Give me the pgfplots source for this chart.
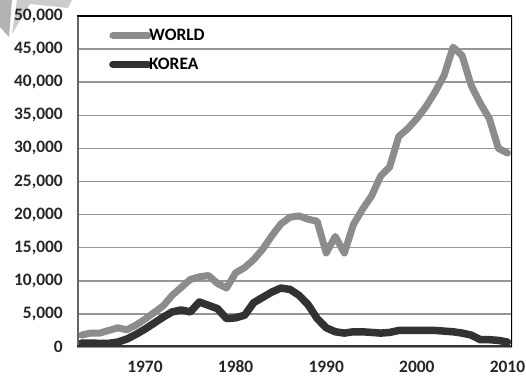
\documentclass[border=0pt]{standalone}
\usepackage{pgfplots}
\usepackage{pgfplotstable}
\pgfplotsset{compat=1.18}
\usepackage{fontspec}
\setmainfont{Carlito}
\definecolor{worldc}{RGB}{140,140,140}
\definecolor{koreac}{RGB}{50,50,50}
\definecolor{gridc}{RGB}{150,150,150}
\pgfplotstableread{
year world korea
1963 1800 600
1964 2100 600
1965 2100 550
1966 2500 550
1967 2900 750
1968 2600 1200
1969 3300 1900
1970 4200 2700
1971 5200 3600
1972 6200 4500
1973 7800 5300
1974 9000 5600
1975 10200 5300
1976 10600 6800
1977 10800 6300
1978 9600 5800
1979 8900 4300
1980 11200 4400
1981 12000 4800
1982 13200 6700
1983 14800 7500
1984 16800 8300
1985 18600 8900
1986 19600 8700
1987 19800 7800
1988 19300 6400
1989 19000 4300
1990 14200 2900
1991 16700 2300
1992 14200 2100
1993 18500 2300
1994 20800 2300
1995 22800 2200
1996 25800 2100
1997 27200 2200
1998 31800 2500
1999 33000 2500
2000 34500 2500
2001 36300 2500
2002 38500 2500
2003 41000 2400
2004 45300 2300
2005 44000 2100
2006 39500 1800
2007 36800 1100
2008 34500 1100
2009 30000 1000
2010 29300 750
}\datatable
\begin{document}
\begin{tikzpicture}
\useasboundingbox (-77bp,-29bp) rectangle (449bp,347bp);
\fill[gray!60] (-77bp,347bp) -- (-65bp,347bp) -- (-68bp,310bp) -- (-77bp,320bp) -- cycle;
\fill[gray!40] (-60bp,347bp) -- (-5bp,347bp) -- (-9bp,339bp) -- (-47bp,343bp) -- (-65bp,313bp) -- cycle;
\begin{axis}[
  at={(0,0)}, anchor=south west,
  scale only axis, width=435bp, height=331bp,
  xmin=1962.5, xmax=2010.5, ymin=0, ymax=50000,
  xtick={1970,1980,1990,2000,2010},
  ytick={0,5000,...,50000},
  major tick length=0pt,
  axis line style={draw=none},
  ymajorgrids, grid style={gridc, line width=1.5bp},
  ticklabel style={font=\fontsize{17.5}{17.5}\selectfont\bfseries, text=black!85, inner sep=0pt},
  /pgf/number format/assume math mode=true,
  scaled y ticks=false,
  yticklabel style={/pgf/number format/1000 sep={,}, /pgf/number format/fixed, anchor=east, xshift=-14bp},
  xticklabel style={/pgf/number format/1000 sep={}, anchor=base, yshift=-25.5bp},
  legend style={at={(rel axis cs:0.0735,0.963)}, anchor=north west, draw=none, fill=none,
    font=\fontsize{17.5}{17.5}\selectfont\bfseries, row sep=13.5bp, inner sep=0pt,
    nodes={inner sep=1bp}},
  legend cell align=left,
  legend image code/.code={\draw[#1] (0bp,0bp) -- (35bp,0bp);},
]
\addplot[worldc, line width=7bp, line join=round, line cap=round] table[x=year, y=world] {\datatable};
\addlegendentry{\hspace*{-3.5bp}WORLD}
\addplot[koreac, line width=7.5bp, line join=round, line cap=round] table[x=year, y=korea] {\datatable};
\addlegendentry{\hspace*{-3.5bp}KOREA}
\draw[black!60, line width=3.5bp] (rel axis cs:0,0) -- (rel axis cs:0,1);
\draw[black!80, line width=3bp] (rel axis cs:0,0) -- (rel axis cs:1,0);
\draw[black, line width=2bp] (rel axis cs:0,1) -- (rel axis cs:1,1);
\draw[black, line width=2bp] (rel axis cs:1,0) -- (rel axis cs:1,1);
\end{axis}
\end{tikzpicture}
\end{document}
